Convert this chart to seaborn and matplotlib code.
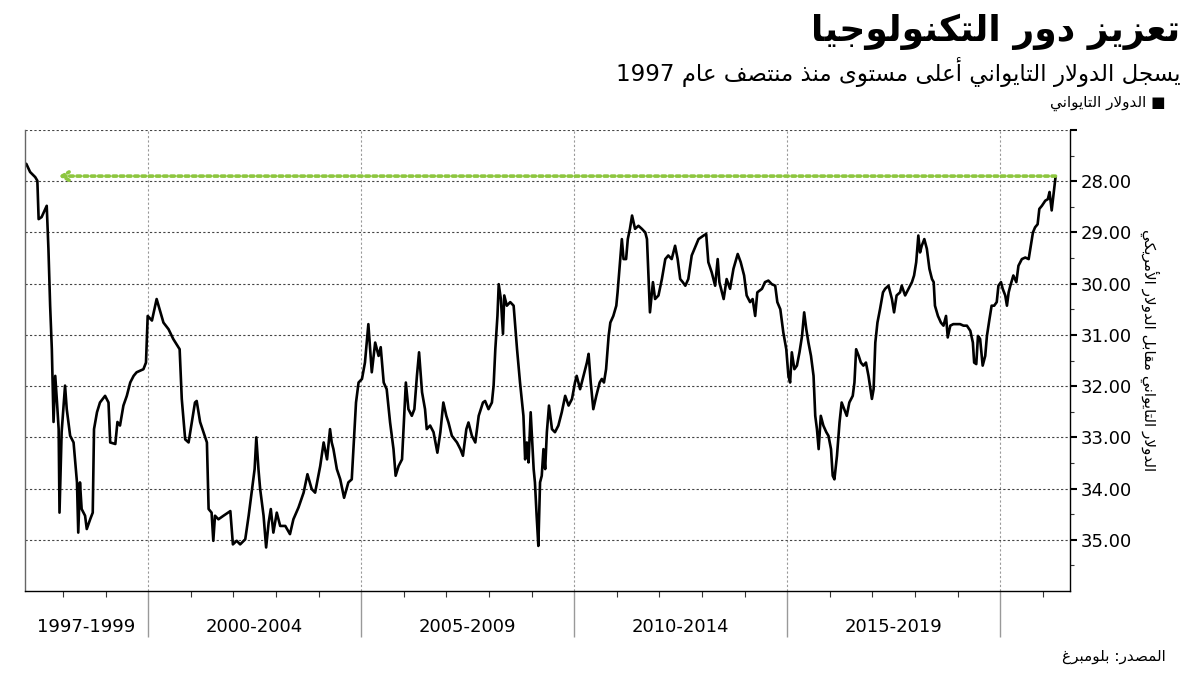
import re
import matplotlib
matplotlib.use('Agg')
import matplotlib.pyplot as plt
import matplotlib.transforms as mtransforms
import seaborn as sns

# Data (decimal year, TWD per USD)
years = [
    1997.14, 1997.23, 1997.35, 1997.40, 1997.43, 1997.50, 1997.62, 1997.66, 1997.70, 1997.74,
    1997.78, 1997.82, 1997.86, 1997.90, 1997.92, 1997.97, 1998.05, 1998.09, 1998.17, 1998.25,
    1998.33, 1998.36, 1998.40, 1998.44, 1998.52, 1998.56, 1998.64, 1998.70, 1998.73, 1998.80,
    1998.87, 1998.99, 1999.07, 1999.11, 1999.23, 1999.28, 1999.34, 1999.42, 1999.50, 1999.58,
    1999.66, 1999.73, 1999.89, 1999.95, 1999.99, 2000.09, 2000.20, 2000.36, 2000.48, 2000.59,
    2000.74, 2000.79, 2000.87, 2000.95,
    2001.10, 2001.14, 2001.22, 2001.30, 2001.38, 2001.42, 2001.49, 2001.53, 2001.57, 2001.65,
    2001.77, 2001.93, 2001.99, 2002.08, 2002.16, 2002.28, 2002.36, 2002.43, 2002.50, 2002.54,
    2002.59, 2002.63, 2002.71, 2002.77, 2002.83, 2002.88, 2002.94, 2003.02, 2003.10, 2003.22,
    2003.33, 2003.41, 2003.53, 2003.65, 2003.74, 2003.84, 2003.92, 2004.04, 2004.12, 2004.20,
    2004.27, 2004.31, 2004.35, 2004.43, 2004.51, 2004.60, 2004.70, 2004.78, 2004.82, 2004.88,
    2004.94,
    2005.02, 2005.09, 2005.17, 2005.25, 2005.33, 2005.41, 2005.46, 2005.53, 2005.60, 2005.68,
    2005.76, 2005.81, 2005.88, 2005.96, 2006.01, 2006.05, 2006.11, 2006.19, 2006.25, 2006.31,
    2006.36, 2006.43, 2006.50, 2006.54, 2006.62, 2006.70, 2006.79, 2006.86, 2006.93, 2007.00,
    2007.05, 2007.13, 2007.25, 2007.33, 2007.39, 2007.47, 2007.52, 2007.60, 2007.68, 2007.76,
    2007.86, 2007.91, 2007.99, 2008.07, 2008.11, 2008.15, 2008.20, 2008.23, 2008.28, 2008.33,
    2008.36, 2008.42, 2008.50, 2008.58, 2008.66, 2008.73, 2008.81, 2008.85, 2008.89, 2008.93,
    2008.98,
    2009.05, 2009.08, 2009.12, 2009.16, 2009.20, 2009.24, 2009.28, 2009.32, 2009.36, 2009.41,
    2009.48, 2009.55, 2009.63, 2009.71, 2009.79, 2009.87, 2009.95, 2010.02, 2010.06, 2010.14,
    2010.22, 2010.30, 2010.34, 2010.39, 2010.45, 2010.52, 2010.60, 2010.65, 2010.70, 2010.75,
    2010.81, 2010.85, 2010.92, 2010.99, 2011.02, 2011.07, 2011.12, 2011.16, 2011.22, 2011.26,
    2011.31, 2011.36, 2011.43, 2011.51, 2011.59, 2011.67, 2011.71, 2011.75, 2011.78, 2011.85,
    2011.90, 2011.98, 2012.06, 2012.14, 2012.21, 2012.29, 2012.37, 2012.43, 2012.49, 2012.55,
    2012.61, 2012.68, 2012.76, 2012.84, 2012.92,
    2013.04, 2013.10, 2013.15, 2013.23, 2013.31, 2013.37, 2013.41, 2013.51, 2013.58, 2013.66,
    2013.74, 2013.84, 2013.91, 2013.99, 2014.05, 2014.13, 2014.19, 2014.25, 2014.30, 2014.41,
    2014.48, 2014.56, 2014.64, 2014.72, 2014.77, 2014.84, 2014.91, 2014.98, 2015.03, 2015.07,
    2015.11, 2015.17, 2015.23, 2015.29, 2015.35, 2015.40, 2015.45, 2015.50, 2015.56, 2015.62,
    2015.66, 2015.70, 2015.74, 2015.79, 2015.85, 2015.92, 2015.97, 2016.03, 2016.07, 2016.11,
    2016.17, 2016.23, 2016.28, 2016.34, 2016.40, 2016.46, 2016.54, 2016.58, 2016.62, 2016.68,
    2016.73, 2016.79, 2016.85, 2016.91,
    2016.99, 2017.03, 2017.07, 2017.12, 2017.18, 2017.25, 2017.30, 2017.38, 2017.46, 2017.51,
    2017.57, 2017.65, 2017.69, 2017.77, 2017.85, 2017.93, 2017.98, 2018.03, 2018.08, 2018.12,
    2018.16, 2018.22, 2018.28, 2018.34, 2018.40, 2018.44, 2018.47, 2018.54, 2018.61, 2018.67,
    2018.73, 2018.77, 2018.83, 2018.90, 2018.98, 2019.06, 2019.14, 2019.22, 2019.30, 2019.36,
    2019.39, 2019.44, 2019.48, 2019.53, 2019.59, 2019.65, 2019.69, 2019.75, 2019.80, 2019.86,
    2019.92, 2019.96, 2020.02, 2020.06, 2020.12, 2020.16, 2020.20, 2020.24, 2020.31, 2020.38,
    2020.43, 2020.51, 2020.59, 2020.67, 2020.72, 2020.77, 2020.82, 2020.88, 2020.92, 2020.98,
    2021.06, 2021.12, 2021.16, 2021.21, 2021.25, 2021.28, 2021.30,
]
twd = [
    27.66, 27.82, 27.92, 27.99, 28.74, 28.70, 28.48, 29.32, 30.43, 31.28,
    32.70, 31.80, 32.30, 32.84, 34.47, 32.90, 31.99, 32.45, 32.97, 33.10,
    33.88, 34.86, 33.88, 34.40, 34.53, 34.79, 34.60, 34.47, 32.84, 32.51,
    32.32, 32.19, 32.32, 33.10, 33.13, 32.70, 32.77, 32.38, 32.19, 31.93,
    31.80, 31.73, 31.67, 31.54, 30.63, 30.72, 30.30, 30.76, 30.89, 31.08,
    31.28, 32.25, 33.04, 33.10,
    32.32, 32.29, 32.70, 32.90, 33.10, 34.40, 34.47, 35.02, 34.53, 34.60,
    34.53, 34.44, 35.09, 35.02, 35.09, 34.99, 34.53, 34.08, 33.62, 33.00,
    33.62, 34.01, 34.53, 35.15, 34.66, 34.40, 34.86, 34.47, 34.73, 34.73,
    34.89, 34.60, 34.37, 34.08, 33.72, 34.01, 34.08, 33.56, 33.10, 33.43,
    32.84, 33.10, 33.23, 33.62, 33.82, 34.18, 33.88, 33.82, 33.23, 32.32,
    31.93,
    31.86, 31.54, 30.79, 31.73, 31.15, 31.41, 31.24, 31.93, 32.06, 32.71,
    33.23, 33.75, 33.56, 33.43, 32.58, 31.93, 32.45, 32.58, 32.45, 31.80,
    31.34, 32.12, 32.45, 32.84, 32.77, 32.90, 33.30, 32.90, 32.32, 32.58,
    32.71, 32.97, 33.10, 33.23, 33.36, 32.84, 32.71, 32.97, 33.10, 32.58,
    32.32, 32.29, 32.45, 32.32, 31.99, 31.28, 30.63, 30.01, 30.30, 30.98,
    30.23, 30.43, 30.36, 30.43, 31.28, 31.93, 32.58, 33.43, 33.10, 33.49,
    32.51,
    33.62, 33.88, 34.53, 35.12, 33.88, 33.75, 33.23, 33.62, 32.90, 32.38,
    32.84, 32.90, 32.77, 32.51, 32.19, 32.38, 32.25, 31.93, 31.80, 32.06,
    31.80, 31.54, 31.37, 31.93, 32.45, 32.19, 31.93, 31.86, 31.93, 31.67,
    31.02, 30.76, 30.63, 30.43, 30.17, 29.65, 29.13, 29.52, 29.52, 29.13,
    28.93, 28.67, 28.93, 28.87, 28.93, 29.00, 29.13, 29.97, 30.56, 29.97,
    30.30, 30.23, 29.91, 29.52, 29.45, 29.52, 29.26, 29.52, 29.91, 29.97,
    30.04, 29.91, 29.45, 29.29, 29.13,
    29.06, 29.03, 29.58, 29.78, 30.04, 29.52, 29.97, 30.30, 29.91, 30.10,
    29.71, 29.42, 29.58, 29.84, 30.23, 30.36, 30.30, 30.63, 30.17, 30.10,
    29.97, 29.94, 30.01, 30.04, 30.36, 30.50, 30.95, 31.28, 31.80, 31.93,
    31.34, 31.67, 31.60, 31.34, 31.02, 30.56, 30.89, 31.15, 31.41, 31.80,
    32.58, 32.84, 33.23, 32.58, 32.77, 32.90, 32.97, 33.23, 33.75, 33.82,
    33.36, 32.71, 32.32, 32.45, 32.58, 32.32, 32.19, 31.93, 31.28, 31.41,
    31.54, 31.60, 31.54, 31.80,
    32.25, 32.06, 31.15, 30.76, 30.50, 30.17, 30.10, 30.04, 30.30, 30.56,
    30.23, 30.17, 30.04, 30.23, 30.10, 29.97, 29.84, 29.58, 29.06, 29.39,
    29.26, 29.13, 29.32, 29.71, 29.91, 29.97, 30.43, 30.63, 30.76, 30.82,
    30.63, 31.05, 30.82, 30.79, 30.79, 30.79, 30.82, 30.82, 30.92, 31.15,
    31.54, 31.57, 31.02, 31.08, 31.60, 31.41, 31.02, 30.69, 30.43, 30.43,
    30.36, 30.04, 29.97, 30.10, 30.23, 30.43, 30.17, 30.04, 29.84, 29.97,
    29.65, 29.52, 29.49, 29.52, 29.26, 29.00, 28.90, 28.84, 28.54, 28.48,
    28.38, 28.35, 28.21, 28.57, 28.28, 28.08, 27.92,
]

title = 'تعزيز دور التكنولوجيا'
subtitle = 'يسجل الدولار التايواني أعلى مستوى منذ منتصف عام 1997'
legend_label = 'الدولار التايواني'
y_label = 'الدولار التايواني مقابل الدولار الأمريكي'
source = 'المصدر: بلومبرغ'
period_labels = ['1997-1999', '2000-2004', '2005-2009', '2010-2014', '2015-2019']
period_edges = [1997.11, 2000, 2005, 2010, 2015, 2020]
y_ticks = [27, 28, 29, 30, 31, 32, 33, 34, 35]
record_level = 27.9
record_start = 1997.9


# --- simple Arabic shaping (matplotlib has no bidi/shaping) ---
_letters = [('ء', 0xFE80, 1), ('آ', 0xFE81, 2), ('أ', 0xFE83, 2), ('ؤ', 0xFE85, 2),
            ('إ', 0xFE87, 2), ('ئ', 0xFE89, 4), ('ا', 0xFE8D, 2), ('ب', 0xFE8F, 4),
            ('ة', 0xFE93, 2), ('ت', 0xFE95, 4), ('ث', 0xFE99, 4), ('ج', 0xFE9D, 4),
            ('ح', 0xFEA1, 4), ('خ', 0xFEA5, 4), ('د', 0xFEA9, 2), ('ذ', 0xFEAB, 2),
            ('ر', 0xFEAD, 2), ('ز', 0xFEAF, 2), ('س', 0xFEB1, 4), ('ش', 0xFEB5, 4),
            ('ص', 0xFEB9, 4), ('ض', 0xFEBD, 4), ('ط', 0xFEC1, 4), ('ظ', 0xFEC5, 4),
            ('ع', 0xFEC9, 4), ('غ', 0xFECD, 4), ('ف', 0xFED1, 4), ('ق', 0xFED5, 4),
            ('ك', 0xFED9, 4), ('ل', 0xFEDD, 4), ('م', 0xFEE1, 4), ('ن', 0xFEE5, 4),
            ('ه', 0xFEE9, 4), ('و', 0xFEED, 2), ('ى', 0xFEEF, 2), ('ي', 0xFEF1, 4)]
FORMS = {c: (s, k) for c, s, k in _letters}
LAMALEF = {'آ': 0xFEF5, 'أ': 0xFEF7, 'إ': 0xFEF9, 'ا': 0xFEFB}


def shape(text):
    out = []
    i = 0
    while i < len(text):
        c = text[i]
        if c not in FORMS:
            out.append(c)
            i += 1
            continue
        prev = text[i - 1] if i > 0 else ''
        nxt = text[i + 1] if i + 1 < len(text) else ''
        link_prev = prev in FORMS and FORMS[prev][1] == 4
        start, k = FORMS[c]
        if c == 'ل' and nxt in LAMALEF:
            out.append(chr(LAMALEF[nxt] + (1 if link_prev else 0)))
            i += 2
            continue
        link_next = k == 4 and nxt in FORMS
        if k == 1:
            form = 0
        elif k == 2:
            form = 1 if link_prev else 0
        else:
            if link_prev and link_next:
                form = 3
            elif link_prev:
                form = 1
            elif link_next:
                form = 2
            else:
                form = 0
        out.append(chr(start + form))
        i += 1
    return ''.join(out)


def rtl(text):
    s = shape(text)
    parts = re.findall(r'[0-9]+|[^0-9]+', s)
    return ''.join(p if p.isdigit() else p[::-1] for p in reversed(parts))


sns.set_style('white')
plt.rcParams['font.family'] = ['DejaVu Sans']
plt.rcParams['text.color'] = 'black'
plt.rcParams['xtick.labelcolor'] = 'black'
plt.rcParams['ytick.labelcolor'] = 'black'

fig = plt.figure(figsize=(12, 6.75), dpi=100)
ax = fig.add_axes([25 / 1200, 1 - 591 / 675, (1070 - 25) / 1200, (591 - 130) / 675])

sns.lineplot(x=years, y=twd, color='black', linewidth=1.9, ax=ax)

ax.set_xlim(period_edges[0], 2021.64)
ax.set_ylim(36, 27)

# green record line with arrow
ax.annotate('', xy=(record_start, record_level), xytext=(years[-1], record_level),
            arrowprops=dict(arrowstyle='->,head_length=0.5,head_width=0.3', color='#8dc63f',
                            lw=2.6, linestyle=(0, (1, 1)), shrinkA=0, shrinkB=0))

# y axis on the right
ax.yaxis.tick_right()
ax.set_yticks(y_ticks)
ax.set_yticklabels(['' if v == 27 else f'{v:.2f}' for v in y_ticks])
ax.set_yticks([v + 0.5 for v in y_ticks], minor=True)
ax.tick_params(axis='y', which='major', length=5, width=1.5, direction='out', labelsize=13, pad=3,
               right=True, left=False, color='black')
ax.tick_params(axis='y', which='minor', length=3, width=0.8, direction='out', right=True, left=False,
               color='#333333')
ax.grid(True, axis='y', which='major', color='#444444', linestyle=(0, (2, 2)), linewidth=0.8)
ax.set_ylabel('')

# x axis: period separators and year ticks
ax.set_xticks(period_edges[1:])
ax.set_xticklabels([])
ax.set_xticks(range(1998, 2022), minor=True)
ax.tick_params(axis='x', which='major', length=33, width=1, color='#999999', direction='out', bottom=True)
ax.tick_params(axis='x', which='minor', length=4, width=0.8, color='#333333', direction='out', bottom=True)
ax.grid(True, axis='x', which='major', color='#999999', linestyle=(0, (2, 2)), linewidth=0.8)
ax.set_xlabel('')

trans = mtransforms.blended_transform_factory(ax.transData, ax.transAxes)
for lab, a, b in zip(period_labels, period_edges[:-1], period_edges[1:]):
    ax.text((a + b) / 2, -0.078, lab, transform=trans, ha='center', va='center', fontsize=13)

ax.spines['top'].set_visible(False)
ax.spines['left'].set_color('#666666')
ax.spines['right'].set_color('black')
ax.spines['bottom'].set_color('black')
for s in ['left', 'right', 'bottom']:
    ax.spines[s].set_linewidth(1)

# texts
fig.text(1180 / 1200, 1 - 32 / 675, rtl(title), ha='right', va='center', fontsize=26, fontweight='bold')
fig.text(1180 / 1200, 1 - 72 / 675, rtl(subtitle), ha='right', va='center', fontsize=16.5)
fig.text(1166 / 1200, 1 - 103 / 675, rtl('■ ' + legend_label), ha='right', va='center', fontsize=11)
fig.text(1150 / 1200, 1 - 350 / 675, rtl(y_label), rotation=-90, ha='center', va='center', fontsize=11)
fig.text(1166 / 1200, 1 - 656 / 675, rtl(source), ha='right', va='center', fontsize=11)

fig.savefig('out.png', dpi=100)
